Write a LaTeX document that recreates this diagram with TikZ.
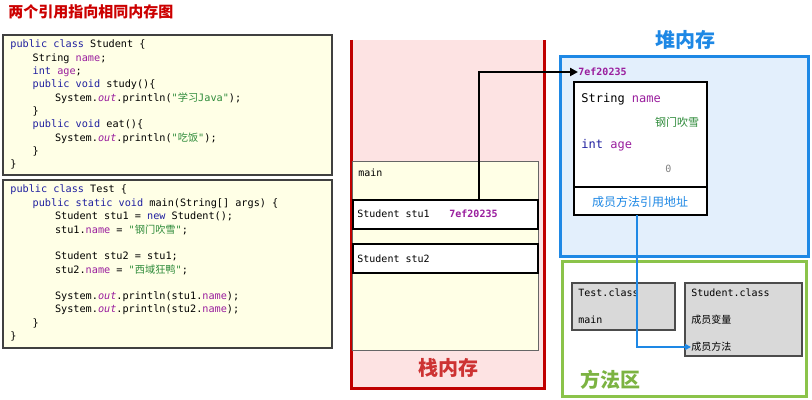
\documentclass[tikz,border=0pt]{standalone}
\usepackage{fontspec}
\setmainfont{Noto Sans CJK SC}
\setmonofont{DejaVu Sans Mono}
\newfontfamily\cjk{Noto Sans CJK SC}
\usetikzlibrary{arrows.meta}
\definecolor{kwc}{HTML}{2020A0}
\definecolor{fdc}{HTML}{9A1E9E}
\definecolor{stc}{HTML}{2E8B3A}
\definecolor{codebg}{HTML}{FFFFE6}
\definecolor{stackbg}{HTML}{FDE3E3}
\definecolor{stackred}{HTML}{C00000}
\definecolor{heapbg}{HTML}{E3EFFC}
\definecolor{heapblue}{HTML}{1E88E5}
\definecolor{mgreen}{HTML}{8BC34A}
\definecolor{mtitle}{HTML}{7CB342}
\definecolor{graybox}{HTML}{D9D9D9}
\newcommand\kw[1]{\textcolor{kwc}{#1}}
\newcommand\fd[1]{\textcolor{fdc}{#1}}
\newcommand\st[1]{\textcolor{stc}{#1}}
\newcommand\cn[1]{{\cjk #1}}
\begin{document}
\begin{tikzpicture}[x=0.5pt,y=-0.5pt,
  code/.style={anchor=west,inner sep=0pt,font=\ttfamily\fontsize{5.1}{6}\selectfont},
  codebox/.style={draw=black!75,line width=0.7pt,fill=codebg},
  slot/.style={draw=black,line width=1pt,fill=white},
  lbl/.style={anchor=west,inner sep=0pt,font=\ttfamily\fontsize{5}{6}\selectfont},
  big/.style={font=\bfseries\fontsize{10}{12}\selectfont}]
\useasboundingbox (0,0) rectangle (812,400);
\node[anchor=west,inner sep=0pt,text=red!80!black,font=\bfseries\fontsize{7.5}{9}\selectfont] (title) at (8,12) {两个引用指向相同内存图};
% code boxes
\draw[codebox] (3,35) rectangle (332,175);
\draw[codebox] (3,180) rectangle (332,348);
\foreach \t [count=\i] in {
 {\kw{public} \kw{class} Student \{},
 {\hspace*{4ex}String \fd{name};},
 {\hspace*{4ex}\kw{int} \fd{age};},
 {\hspace*{4ex}\kw{public} \kw{void} study()\{},
 {\hspace*{8ex}System.\fd{\itshape out}.println(\st{"\cn{学习}Java"});},
 {\hspace*{4ex}\}},
 {\hspace*{4ex}\kw{public} \kw{void} eat()\{},
 {\hspace*{8ex}System.\fd{\itshape out}.println(\st{"\cn{吃饭}"});},
 {\hspace*{4ex}\}},
 {\}}}
 \node[code] (a\i) at (10,{45+13.3*(\i-1)}) {\t};
\foreach \t [count=\i] in {
 {\kw{public} \kw{class} Test \{},
 {\hspace*{4ex}\kw{public} \kw{static} \kw{void} main(String[] args) \{},
 {\hspace*{8ex}Student stu1 = \kw{new} Student();},
 {\hspace*{8ex}stu1.\fd{name} = \st{"\cn{钢门吹雪}"};},
 {},
 {\hspace*{8ex}Student stu2 = stu1;},
 {\hspace*{8ex}stu2.\fd{name} = \st{"\cn{西域狂鸭}"};},
 {},
 {\hspace*{8ex}System.\fd{\itshape out}.println(stu1.\fd{name});},
 {\hspace*{8ex}System.\fd{\itshape out}.println(stu2.\fd{name});},
 {\hspace*{4ex}\}},
 {\}}}
 \node[code] (b\i) at (10,{190+13.3*(\i-1)}) {\t};
% stack
\fill[stackbg] (351,40) rectangle (544,388);
\draw[stackred,line width=1.5pt] (351,40) -- (351,388) -- (544,388) -- (544,40);
\draw[black!60,fill=codebg,line width=0.5pt] (352,162) rectangle (538,350);
\node[lbl] (mainlbl) at (358,173) {main};
\draw[slot] (353,200) rectangle (538,229);
\node[lbl] (stu1) at (357,214) {Student stu1};
\node[lbl,text=fdc,font=\ttfamily\bfseries\fontsize{5}{6}\selectfont] (addr1) at (449,214) {7ef20235};
\draw[slot] (353,244) rectangle (538,273);
\node[lbl] (stu2) at (357,259) {Student stu2};
\node[big,text=stackred!80] (stacklbl) at (448,368) {栈内存};
% heap
\draw[heapblue,fill=heapbg,line width=1.5pt] (560,57) rectangle (808,257);
\node[big,text=heapblue] (heaplbl) at (685,40) {堆内存};
\node[lbl,text=fdc,font=\ttfamily\bfseries\fontsize{5}{6}\selectfont] (addr2) at (578,72) {7ef20235};
\draw[slot] (574,82) rectangle (707,215);
\draw[black,line width=1pt] (574,187) -- (707,187);
\node[lbl,font=\ttfamily\fontsize{6}{7}\selectfont] (f1) at (581,99) {String \fd{name}};
\node[inner sep=0pt,text=stc,font=\fontsize{5.5}{7}\selectfont] (v1) at (677,122) {钢门吹雪};
\node[lbl,font=\ttfamily\fontsize{6}{7}\selectfont] (f2) at (581,145) {\kw{int} \fd{age}};
\node[lbl,text=gray] (v2) at (665,169) {0};
\node[inner sep=0pt,text=heapblue,font=\fontsize{6}{7}\selectfont] (maddr) at (640,202) {成员方法引用地址};
% method area
\draw[mgreen,line width=1.5pt] (562,262) rectangle (806,396);
\node[big,text=mtitle] (mlbl) at (610,380) {方法区};
\draw[black!70,fill=graybox,line width=0.7pt] (572,283) rectangle (675,330);
\node[lbl] (tc) at (578,293) {Test.class};
\node[lbl] (tm) at (578,320) {main};
\draw[black!70,fill=graybox,line width=0.7pt] (685,283) rectangle (802,356);
\node[lbl] (sc) at (691,293) {Student.class};
\node[lbl,font=\fontsize{5}{6}\selectfont] (sv) at (691,320) {成员变量};
\node[lbl,font=\fontsize{5}{6}\selectfont] (sm) at (691,347) {成员方法};
% arrows
\coordinate (s1top) at (479,200);
\draw[black,line width=1.3pt,-{Triangle[length=4pt,width=4pt]}] (s1top) |- (addr2.west);
\coordinate (mtop) at (637,215);
\draw[heapblue,line width=1pt,-{Triangle[length=3pt,width=3pt]}] (mtop) |- (sm.west);
\end{tikzpicture}
\end{document}
